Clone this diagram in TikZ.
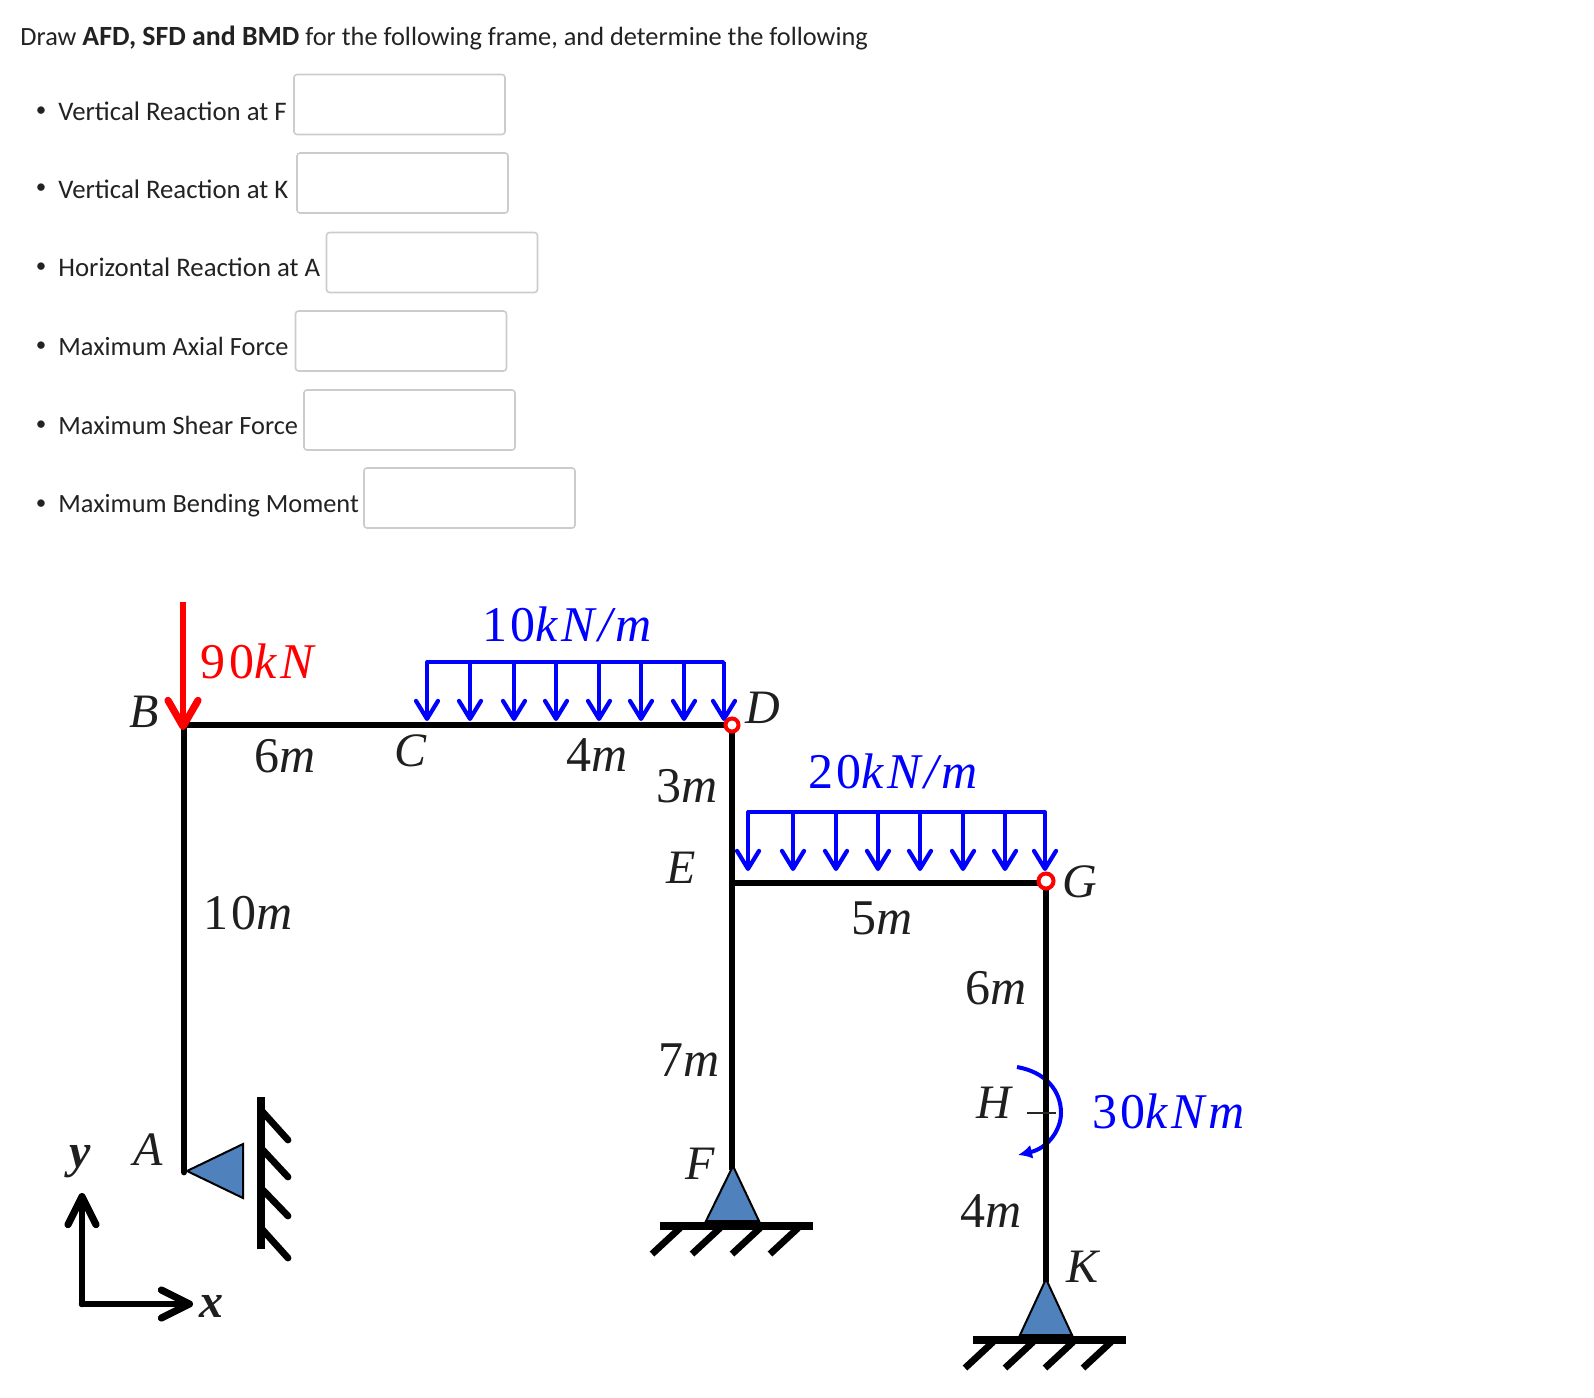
\documentclass[tikz,border=0pt]{standalone}
\usepackage{fontspec}
\setmainfont{Carlito}
\newfontfamily\labfont[LetterSpace=7]{Liberation Serif}
\usetikzlibrary{arrows.meta}
\definecolor{txt}{HTML}{222222}
\definecolor{boxgray}{HTML}{CCCCCC}
\definecolor{supblue}{HTML}{4F81BD}
\definecolor{loadblue}{HTML}{0000FF}
\definecolor{loadred}{HTML}{FF0000}
\tikzset{
  qtext/.style={anchor=west,inner sep=0pt,text=txt,font=\fontsize{13.4}{16}\selectfont},
  qtextm/.style={qtext,font=\fontsize{13.17}{16}\selectfont},
  bulletmark/.style={inner sep=0pt,text=txt,font=\fontsize{10.5}{12}\selectfont},
  answerbox/.style={draw=boxgray,line width=0.8pt,rounded corners=1.5pt,minimum width=105.5pt,minimum height=30pt,inner sep=0pt},
  slabel/.style={inner sep=0pt,text=black!88,font=\fontsize{24}{28}\selectfont\labfont},
  mlabel/.style={inner sep=0pt,text=black!88,font=\fontsize{25}{28}\selectfont\labfont},
  blabel/.style={mlabel,text=loadblue},
  rlabel/.style={mlabel,text=loadred},
  member/.style={line width=3.4pt,black,line cap=round},
  thinbeam/.style={line width=3.4pt,black},
  support/.style={draw=black,line width=1pt,fill=supblue,line join=miter},
  ground/.style={line width=4pt,black},
  hatchline/.style={line width=3.4pt,black},
  loadbar/.style={line width=1.9pt,loadblue,line cap=round,line join=round},
  loadarrow/.style={line width=1.9pt,loadblue,-{Straight Barb[length=9pt,width=11pt,line width=2.1pt,round]}},
  bigred/.style={line width=3.4pt,loadred,-{Straight Barb[length=13pt,width=15pt,line width=3.6pt,round]}},
  axisline/.style={line width=3.3pt,black,line cap=round,line join=round,-{Straight Barb[length=14pt,width=14pt,line width=3.6pt,round]}},
  hinge/.style={circle,draw=loadred,fill=white,line width=2pt,minimum size=6.5pt,inner sep=0pt},
  momentarc/.style={line width=2pt,loadblue,-{Latex[length=7pt,width=7pt]}},
  ticks/.style={line width=0.8pt,black!85},
}
\begin{document}
\begin{tikzpicture}[x=0.5pt,y=-0.5pt]
\useasboundingbox (0,0) rectangle (1594,1397);
% header text
\node[qtext] (title) at (20,38) {\fontsize{13.17}{16}\selectfont Draw \textbf{\fontsize{13.9}{16}\selectfont AFD, SFD and BMD} for the following frame, and determine the following};
\node[bulletmark] (b1) at (41,112) {\textbullet};
\node[bulletmark] (b2) at (41,189) {\textbullet};
\node[bulletmark] (b3) at (41,268) {\textbullet};
\node[bulletmark] (b4) at (41,347) {\textbullet};
\node[bulletmark] (b5) at (41,426) {\textbullet};
\node[bulletmark] (b6) at (41,505) {\textbullet};
\node[qtext] (q1) at (58,111) {Vertical Reaction at F};
\node[qtext] (q2) at (58,189) {Vertical Reaction at K};
\node[qtext] (q3) at (58,267) {Horizontal Reaction at A};
\node[qtextm] (q4) at (58,346) {Maximum Axial Force};
\node[qtextm] (q5) at (58,425) {Maximum Shear Force};
\node[qtextm] (q6) at (58,506) {Maximum Bending Moment};
\node[answerbox] (a1) at (399.5,104.5) {};
\node[answerbox] (a2) at (402.5,183) {};
\node[answerbox] (a3) at (432,262.5) {};
\node[answerbox] (a4) at (401,341) {};
\node[answerbox] (a5) at (409.5,420) {};
\node[answerbox] (a6) at (469.5,498) {};
% frame points
\coordinate (A) at (184,1172);
\coordinate (B) at (184,725);
\coordinate (D) at (732,725);
\coordinate (E) at (732,883);
\coordinate (F) at (732,1170);
\coordinate (G) at (1046,883);
\coordinate (H) at (1046,1113);
\coordinate (K) at (1046,1282);
% moment (behind the column)
\draw[momentarc] (1017,1067) .. controls (1045,1072) and (1061,1090) .. (1061,1113) .. controls (1061,1130) and (1048,1148) .. (1018,1155);
% frame
\draw[member] (A) -- (B) -- (D);
\draw[thinbeam] (D) -- (F);
\draw[thinbeam] (E) -- (G);
\draw[thinbeam] (G) -- (K);
\draw[ticks] (1027,1113) -- (1056,1113);
% supports
\draw[support] (187,1171) -- (243,1144) -- (243,1198) -- cycle;
\draw[line width=3.6pt,black] (261,1097) -- (261,1249);
\foreach \ya/\yb in {1110/1140,1148/1177,1188/1216,1228/1258}
  \draw[hatchline,line cap=round] (261,\ya) -- (288,\yb);
\draw[support] (733,1166) -- (706,1221) -- (759,1221) -- cycle;
\draw[ground] (660,1226) -- (813,1226);
\foreach \xa/\xb in {680/652,720/692,760/732,798/770}
  \draw[hatchline] (\xa,1228) -- (\xb,1254);
\draw[support] (1046,1279) -- (1020,1335) -- (1072,1335) -- cycle;
\draw[ground] (973,1340) -- (1126,1340);
\foreach \xa/\xb in {993/965,1033/1005,1073/1045,1111/1083}
  \draw[hatchline] (\xa,1342) -- (\xb,1368);
% 90 kN
\coordinate (P) at (183,602);
\coordinate (Ptip) at (183,730);
\draw[bigred] (P) -- (Ptip);
% distributed load 10
\coordinate (L1a) at (427,662);
\coordinate (L1b) at (723,662);
\draw[loadbar] (L1a) -- (L1b);
\foreach \x in {427,470,514,556,599,641,684,724}
  \draw[loadarrow] (\x,662) -- (\x,721);
% distributed load 20
\coordinate (L2a) at (748,812);
\coordinate (L2b) at (1045,812);
\draw[loadbar] (L2a) -- (L2b);
\foreach \x in {748,793,836,878,920,963,1005,1045}
  \draw[loadarrow] (\x,812) -- (\x,871);
% hinges
\node[hinge] (hD) at (732,725) {};
\node[hinge,minimum size=7.5pt] (hG) at (1046,881) {};
% axes
\coordinate (O) at (82,1304);
\coordinate (Yt) at (82,1193);
\coordinate (Xt) at (193,1304);
\draw[axisline] (O) -- (Yt);
\draw[axisline] (O) -- (Xt);
% labels
\node[rlabel] (t90) at (260,661) {90\textit{kN}};
\node[blabel] (t10) at (569,624) {10\textit{kN/m}};
\node[blabel] (t20) at (895,771) {20\textit{kN/m}};
\node[blabel] (t30) at (1170,1111) {30\textit{kNm}};
\node[slabel] (tB) at (146,712) {\textit{B}};
\node[slabel] (tC) at (412,751) {\textit{C}};
\node[slabel] (tD) at (765,708) {\textit{D}};
\node[slabel] (tE) at (683,868) {\textit{E}};
\node[slabel] (tF) at (702,1164) {\textit{F}};
\node[slabel] (tG) at (1081,882) {\textit{G}};
\node[slabel] (tH) at (997,1103) {\textit{H}};
\node[slabel] (tK) at (1085,1267) {\textit{K}};
\node[slabel] (tA) at (150,1150) {\textit{A}};
\node[mlabel] (t6a) at (287,756) {6\textit{m}};
\node[mlabel] (t4a) at (599,755) {4\textit{m}};
\node[mlabel] (t3) at (689,786) {3\textit{m}};
\node[mlabel] (t5) at (884,918) {5\textit{m}};
\node[mlabel] (t10m) at (250,913) {10\textit{m}};
\node[mlabel] (t6b) at (998,988) {6\textit{m}};
\node[mlabel] (t7) at (691,1060) {7\textit{m}};
\node[mlabel] (t4b) at (993,1211) {4\textit{m}};
\node[slabel] (ty) at (82,1162) {\textbf{\textit{y}}};
\node[slabel] (tx) at (213,1306) {\textbf{\textit{x}}};
\end{tikzpicture}
\end{document}
